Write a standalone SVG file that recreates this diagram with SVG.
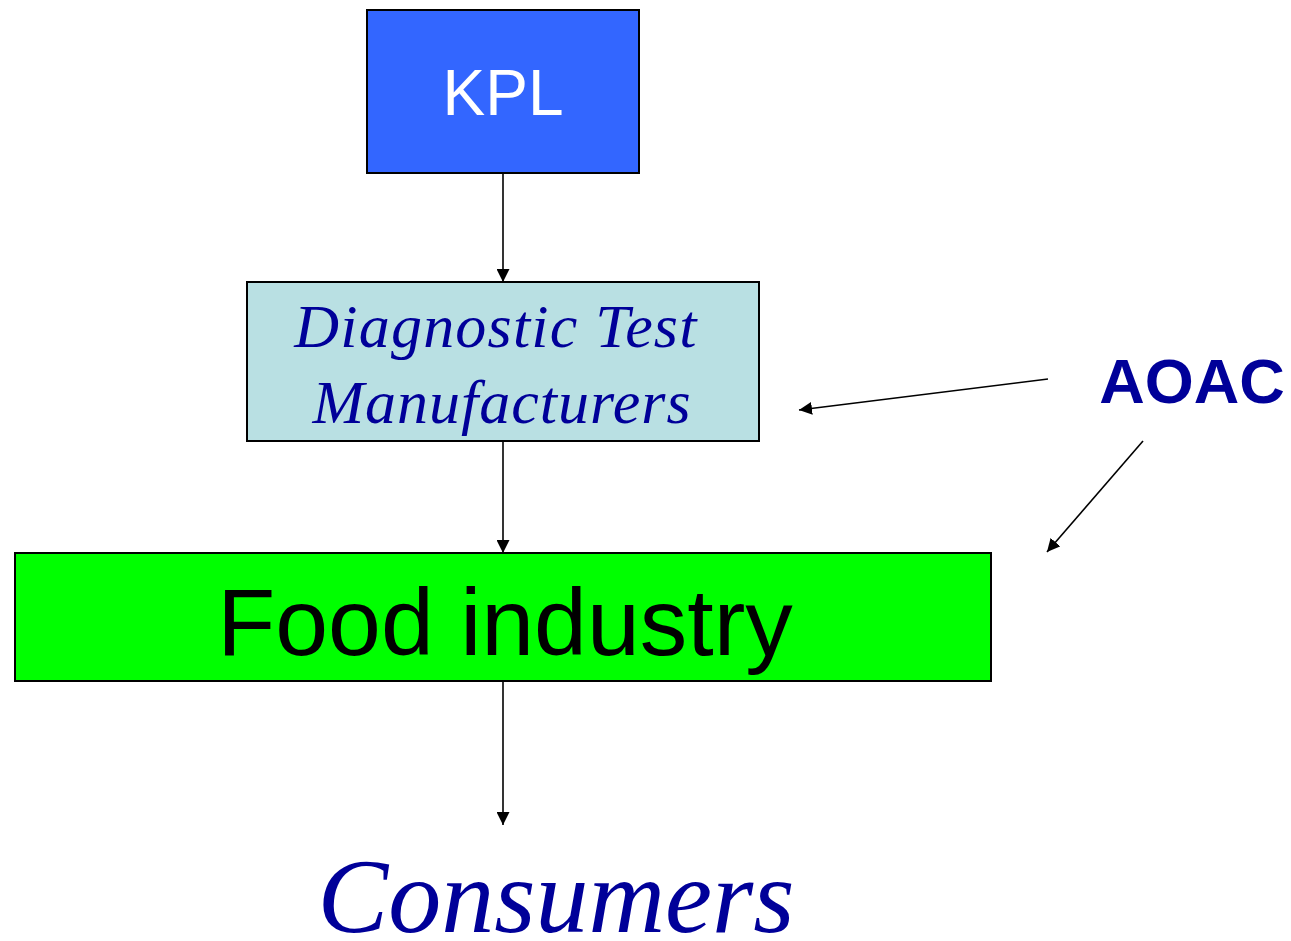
<svg xmlns="http://www.w3.org/2000/svg" width="1291" height="941" viewBox="0 0 1291 941">
<defs>
<style>
.box{stroke:#000;stroke-width:2}
.conn{stroke:#000;stroke-width:1.6;fill:none;marker-end:url(#ah)}
.serif{font-family:"Liberation Serif","Times New Roman",serif;font-style:italic;fill:#000099}
.sans{font-family:"Liberation Sans",Arial,sans-serif}
</style>
<marker id="ah" viewBox="0 0 10 10" refX="10" refY="5" markerWidth="13" markerHeight="13" markerUnits="userSpaceOnUse" orient="auto">
<path d="M0,0 L10,5 L0,10 z" fill="#000"/>
</marker>
</defs>
<rect width="1291" height="941" fill="#fff"/>
<g id="connectors">
<line class="conn" x1="503" y1="173" x2="503" y2="282"/>
<line class="conn" x1="503" y1="441" x2="503" y2="553"/>
<line class="conn" x1="503" y1="681" x2="503" y2="825"/>
<line class="conn" x1="1048" y1="379" x2="799" y2="410"/>
<line class="conn" x1="1143" y1="441" x2="1047" y2="552"/>
</g>
<g id="kpl">
<rect class="box" x="367" y="10" width="272" height="163" fill="#3366FF"/>
<text class="sans" x="503" y="115" font-size="64" fill="#fff" text-anchor="middle">KPL</text>
</g>
<g id="diagnostic">
<rect class="box" x="247" y="282" width="512" height="159" fill="#B9E0E3"/>
<text class="serif" x="496" y="347" font-size="62" letter-spacing="1.2" text-anchor="middle">Diagnostic Test</text>
<text class="serif" x="502" y="423" font-size="62" letter-spacing="1" text-anchor="middle">Manufacturers</text>
</g>
<g id="food">
<rect class="box" x="15" y="553" width="976" height="128" fill="#00FF00"/>
<text class="sans" x="505" y="655" font-size="95" fill="#000" text-anchor="middle">Food industry</text>
</g>
<g id="consumers">
<text class="serif" x="556" y="932" font-size="106" text-anchor="middle">Consumers</text>
</g>
<g id="aoac">
<text class="sans" x="1192" y="403" font-size="63" font-weight="bold" fill="#000099" text-anchor="middle">AOAC</text>
</g>
</svg>
